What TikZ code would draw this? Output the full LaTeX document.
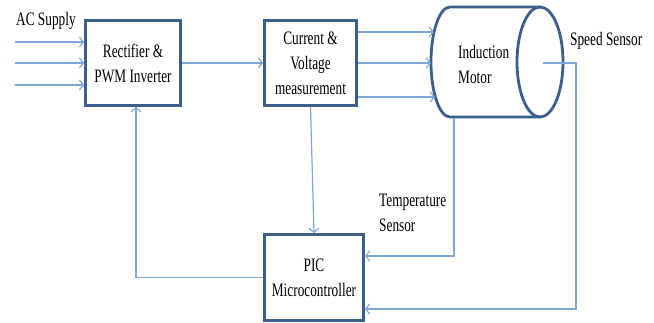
\documentclass[tikz,border=0pt]{standalone}
\usepackage{fontspec}
\setmainfont{Liberation Serif}[FakeStretch=0.7]
\usepackage{tikz}
\usetikzlibrary{arrows.meta}
\definecolor{drvblue}{HTML}{3A5F8B}
\definecolor{drvline}{HTML}{7EA6D8}
\tikzset{
  box/.style={draw=drvblue,line width=2.8pt,align=center,inner sep=2pt},
  motor/.style={draw=drvblue,line width=2.8pt},
  ar/.style={-{Straight Barb[length=4pt,width=10pt]},draw=drvline,line width=1.2pt},
  ln/.style={draw=drvline,line width=1.2pt},
  lbl/.style={inner sep=0pt,align=left},
}

\begin{document}
\begin{tikzpicture}[x=1pt,y=-1pt,font=\fontsize{19}{25}\selectfont]
  \useasboundingbox (0,0) rectangle (654,323);
  \node[box,minimum width=95pt,minimum height=85pt] (rect) at (133,63) {Rectifier \&\\PWM Inverter};
  \node[box,minimum width=92pt,minimum height=85pt] (meas) at (310.5,63) {Current \&\\Voltage\\measurement};
  \node[box,minimum width=99pt,minimum height=86pt] (pic) at (314,277.5) {PIC\\Microcontroller};
  \draw[motor] (450,7) -- (540,7) (540,117) -- (450,117) arc[start angle=270,end angle=90,x radius=19pt,y radius=55pt];
  \draw[motor] (540,62) ellipse[x radius=23pt,y radius=55pt];
  \node[lbl,anchor=west] (mot) at (458,64.5) {Induction\\Motor};
  \node[lbl,anchor=base west] (ac) at (16,26) {AC Supply};
  \node[lbl,anchor=base west] (spdlbl) at (570,46) {Speed Sensor};
  \node[lbl,anchor=west] (tmplbl) at (379,213) {Temperature\\Sensor};
  \coordinate (ac1) at (15,42); \coordinate (ac2) at (15,63); \coordinate (ac3) at (15,85);
  \coordinate (m1) at (434,32); \coordinate (m2) at (431,63); \coordinate (m3) at (435,97);
  \coordinate (spd) at (543,63); \coordinate (tmp) at (454,118.5);
  \foreach \c in {ac1,ac2,ac3} {\draw[ar] (\c) -- (\c -| rect.west);}
  \draw[ar] (rect.east) -- (rect.east -| meas.west);
  \foreach \c in {m1,m2,m3} {\draw[ar] (\c -| meas.east) -- (\c);}
  \draw[ar] (meas.south) -- (pic.north);
  \draw[ar] (tmp) |- ([yshift=21.5pt]pic.east);
  \draw[ar] (spd) -- ++(33,0) |- ([yshift=-31.5pt]pic.east);
  \draw[ar] (pic.west) -| ([xshift=3pt]rect.south);
\end{tikzpicture}
\end{document}
